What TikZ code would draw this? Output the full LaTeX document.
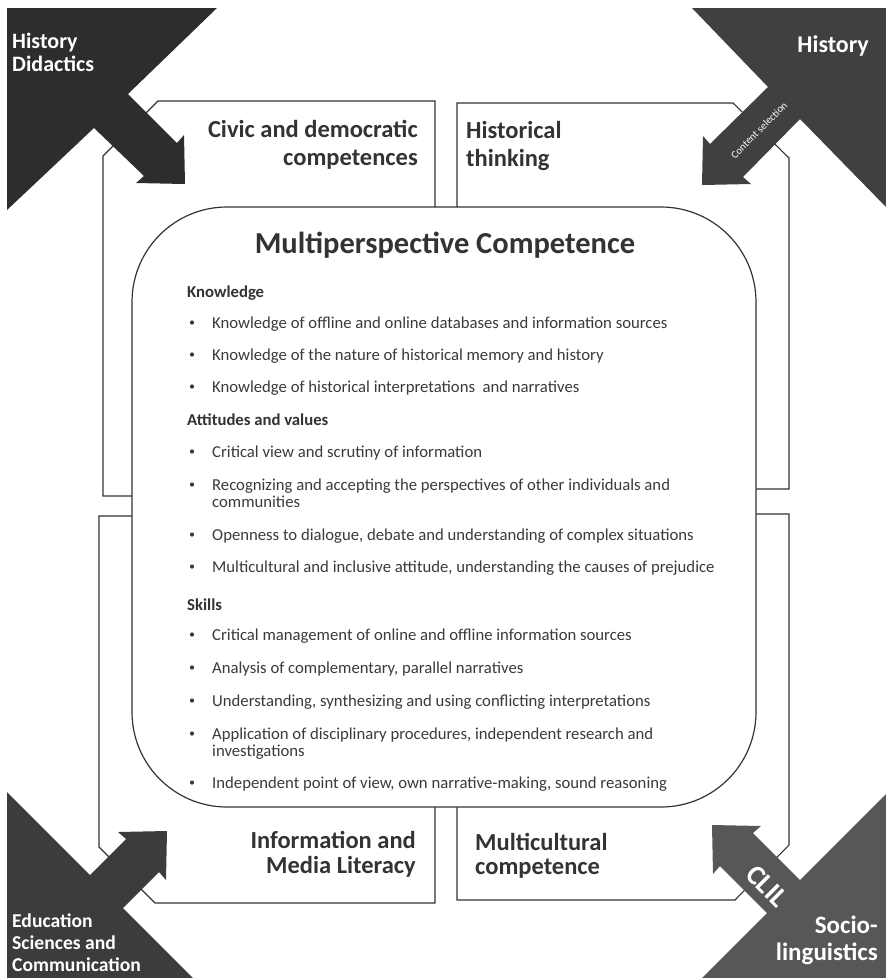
\documentclass[tikz,border=0pt]{standalone}
\usepackage{fontspec}
\setmainfont{Carlito}
\definecolor{ink}{HTML}{333333}
\definecolor{txt}{HTML}{3A3A3A}
\definecolor{shadeTL}{HTML}{2D2D2D}
\definecolor{shadeTR}{HTML}{404040}
\definecolor{shadeBL}{HTML}{3C3C3C}
\definecolor{shadeBR}{HTML}{575757}
\newcommand{\fsz}[2]{\fontsize{#1}{#2}\selectfont}
\begin{document}
\begin{tikzpicture}[x=1pt,y=-1pt,
  frame/.style={draw=ink,line width=1.1pt,fill=white,line join=miter},
  core/.style={draw=ink,line width=1.2pt,fill=white,rounded corners=95pt},
  boxtitle/.style={inner sep=0pt,text=ink,font=\fsz{24.5}{28}\bfseries},
  bodyline/.style={inner sep=0pt,anchor=base west,text=txt,font=\fsz{16.7}{19}},
  headline/.style={inner sep=0pt,anchor=base west,text=ink,font=\fsz{16.7}{19}\bfseries},
  bul/.style={circle,fill=txt,inner sep=0pt,minimum size=4.2pt},
  cornertext/.style={inner sep=0pt,text=white}
]
\useasboundingbox (0,0) rectangle (886,978);

% four quadrant frames with chamfered outer corners
\draw[frame] (103,496) -- (103,156) -- (158,101) -- (435,101) -- (435,496) -- cycle;
\draw[frame] (457,489) -- (457,103) -- (733,103) -- (789,158) -- (789,489) -- cycle;
\draw[frame] (99,516) -- (435,516) -- (435,903) -- (155,903) -- (99,847) -- cycle;
\draw[frame] (457,514) -- (789,514) -- (789,845) -- (735,900) -- (457,900) -- cycle;

% central competence panel
\draw[core] (132,207) rectangle (756,807);

% corner wedges with their arrows
\fill[shadeTL] (7,8) -- (217,8) -- (128,94) -- (177,143) -- (184,135) -- (185,184)
  -- (136,183) -- (144,176) -- (94,128) -- (7,210) -- cycle;
\fill[shadeTR] (692,8) -- (886,8) -- (886,207) -- (800,119) -- (743,177) -- (751,184)
  -- (702,185) -- (703,136) -- (710,144) -- (768,87) -- cycle;
\fill[shadeBL] (7,792) -- (90,875) -- (126,839) -- (118,832) -- (167,831) -- (166,880)
  -- (159,872) -- (123,908) -- (193,978) -- (7,978) -- cycle;
\fill[shadeBR] (886,794) -- (886,978) -- (702,978) -- (767,913) -- (720,866) -- (713,874)
  -- (712,825) -- (761,826) -- (753,833) -- (800,880) -- cycle;

% corner discipline labels
\node[cornertext,anchor=base west,font=\fsz{22}{24}\bfseries] (hd1) at (12,48) {History};
\node[cornertext,anchor=base west,font=\fsz{22}{24}\bfseries] (hd2) at (12,71) {Didactics};
\node[cornertext,anchor=base east,font=\fsz{24}{27}\bfseries] (hi1) at (869,52) {History};
\node[cornertext,anchor=base west,font=\fsz{19.6}{22}\bfseries] (ed1) at (12,927) {Education};
\node[cornertext,anchor=base west,font=\fsz{19.6}{22}\bfseries] (ed2) at (12,949) {Sciences and};
\node[cornertext,anchor=base west,font=\fsz{19.6}{22}\bfseries] (ed3) at (12,971) {Communication};
\node[cornertext,anchor=base east,font=\fsz{25}{27}\bfseries] (so1) at (878,933) {Socio-};
\node[cornertext,anchor=base east,font=\fsz{25}{27}\bfseries] (so2) at (878,960) {linguistics};
\node[cornertext,rotate=45,font=\fsz{10.5}{12}] (cs) at (759,130) {Content selection};
\node[cornertext,rotate=-45,font=\fsz{28}{30}\bfseries] (clil) at (767,886) {CLIL};

% quadrant titles
\node[boxtitle,anchor=base east] (cv1) at (418,137) {Civic and democratic};
\node[boxtitle,anchor=base east] (cv2) at (418,165) {competences};
\node[boxtitle,anchor=base west] (ht1) at (466,138) {Historical};
\node[boxtitle,anchor=base west] (ht2) at (466,166) {thinking};
\node[boxtitle,anchor=base east] (im1) at (416,848) {Information and};
\node[boxtitle,anchor=base east] (im2) at (416,873) {Media Literacy};
\node[boxtitle,anchor=base west] (mc1) at (475,850) {Multicultural};
\node[boxtitle,anchor=base west] (mc2) at (475,874) {competence};

% panel contents
\node[inner sep=0pt,anchor=base,text=ink,font=\fsz{30.5}{33}\bfseries] (title) at (445,253) {Multiperspective Competence};

\node[headline] (hk) at (187,297) {Knowledge};
\node[headline] (ha) at (187,425) {Attitudes and values};
\node[headline] (hs) at (187,610) {Skills};

\foreach \y/\t [count=\i] in {
  328/{Knowledge of offline and online databases and information sources},
  360/{Knowledge of the nature of historical memory and history},
  392/{Knowledge of historical interpretations\ \ and narratives},
  457/{Critical view and scrutiny of information},
  490/{Recognizing and accepting the perspectives of other individuals and},
  540/{Openness to dialogue, debate and understanding of complex situations},
  572/{Multicultural and inclusive attitude, understanding the causes of prejudice},
  640/{Critical management of online and offline information sources},
  673/{Analysis of complementary, parallel narratives},
  706/{Understanding, synthesizing and using conflicting interpretations},
  739/{Application of disciplinary procedures, independent research and},
  788/{Independent point of view, own narrative-making, sound reasoning}}
{
  \node[bul] (dot\i) at (192,\y-5.5) {};
  \node[bodyline] (item\i) at (212,\y) {\t};
}
\node[bodyline] (item5b) at (212,507) {communities};
\node[bodyline] (item11b) at (212,756) {investigations};
\end{tikzpicture}
\end{document}
